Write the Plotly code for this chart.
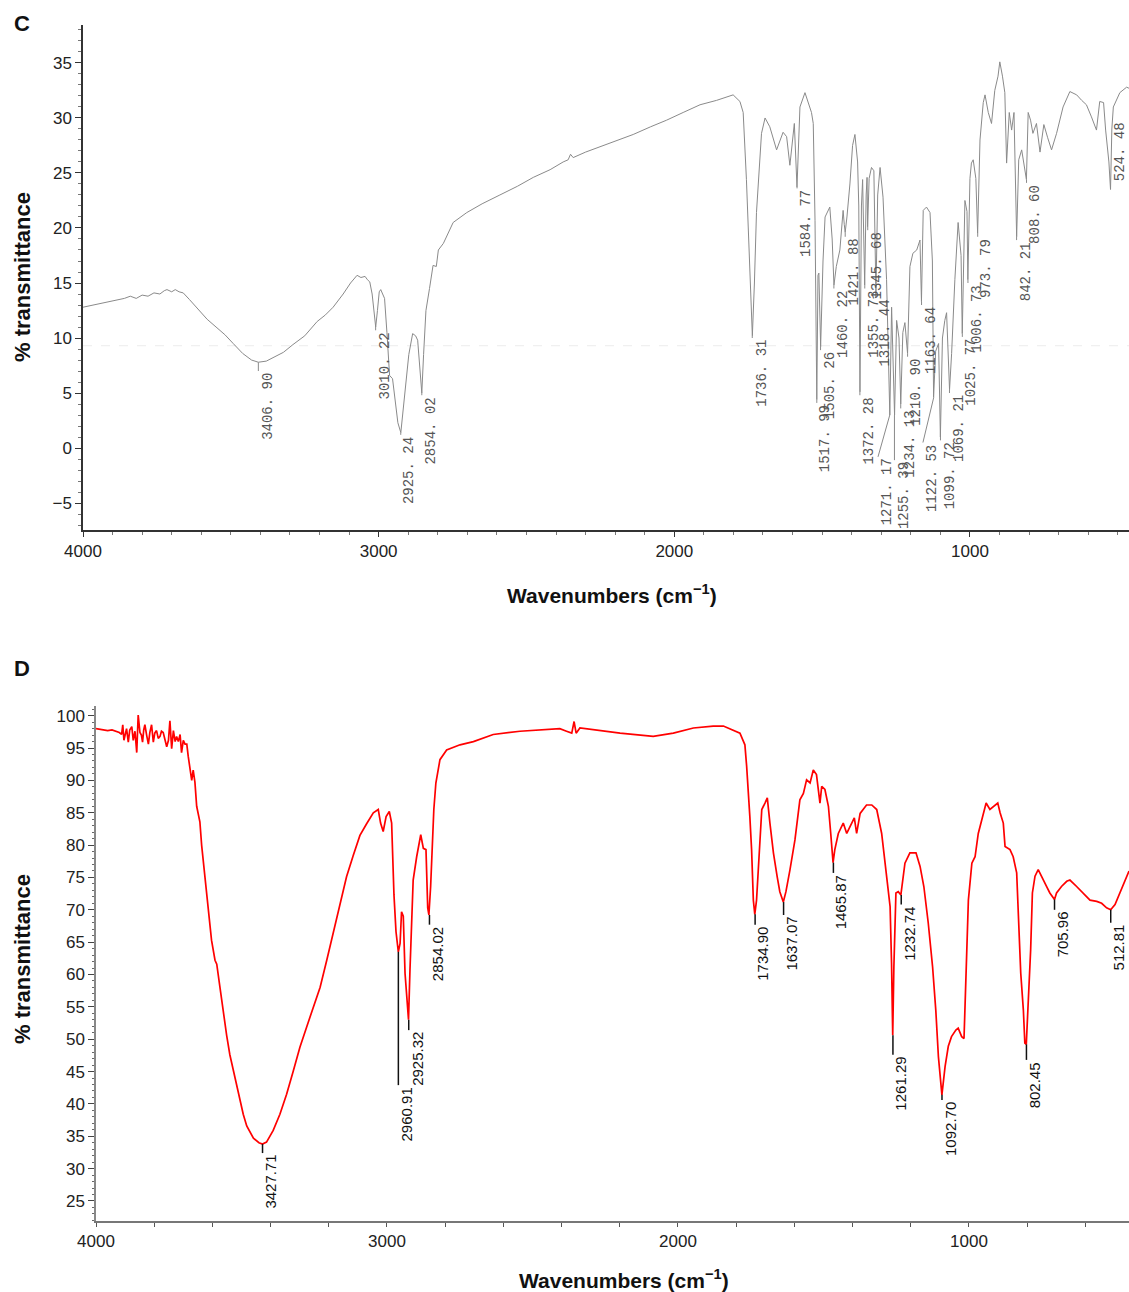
import plotly.graph_objects as go

# ---------------- Panel C (gray spectrum) ----------------
C_wavenumber = [
    4000, 3950, 3900, 3860, 3840, 3820, 3800, 3780, 3760, 3740,
    3725, 3716, 3700, 3688, 3675, 3661, 3640, 3620, 3604, 3580,
    3550, 3520, 3492, 3460, 3430, 3407, 3380, 3350, 3322, 3290,
    3250, 3208, 3180, 3154, 3120, 3095, 3073, 3060, 3046, 3038,
    3030, 3022, 3016, 3010, 3004, 2998, 2993, 2986, 2980, 2972,
    2963, 2953, 2945, 2935, 2925, 2912, 2898, 2885, 2875, 2868,
    2862, 2854, 2848, 2840, 2828, 2816, 2805, 2798, 2781, 2765,
    2748, 2702, 2650, 2590, 2530, 2477, 2420, 2376, 2359, 2351,
    2342, 2300, 2251, 2200, 2139, 2080, 2026, 1970, 1913, 1857,
    1823, 1801, 1778, 1767, 1756, 1745, 1736, 1729, 1722, 1705,
    1693, 1677, 1654, 1632, 1620, 1609, 1594, 1585, 1575, 1558,
    1547, 1536, 1530, 1524, 1518, 1514, 1511, 1505, 1497, 1490,
    1474, 1466, 1460, 1452, 1440, 1429, 1425, 1422, 1416, 1406,
    1397, 1389, 1380, 1376, 1372, 1367, 1363, 1356, 1351, 1348,
    1346, 1341, 1333, 1325, 1318, 1312, 1304, 1294, 1282, 1271,
    1265, 1255, 1248, 1240, 1234, 1227, 1220, 1211, 1203, 1193,
    1180, 1169, 1164, 1158, 1147, 1135, 1127, 1123, 1116, 1106,
    1100, 1093, 1085, 1079, 1069, 1062, 1051, 1040, 1030, 1026,
    1017, 1010, 1007, 1000, 995, 989, 980, 974, 966, 955,
    949, 938, 927, 916, 905, 899, 890, 882, 876, 867,
    859, 851, 842, 835, 825, 817, 809, 803, 795, 787,
    775, 763, 750, 737, 724, 707, 685, 662, 639, 622,
    606, 589, 572, 561, 548, 541, 530, 524.5, 520, 515,
    493, 470, 462,
]
C_transmittance = [
    12.8, 13.1, 13.4, 13.6, 13.8, 13.6, 13.9, 13.8, 14.1, 14.0,
    14.3, 14.4, 14.2, 14.4, 14.2, 14.1, 13.5, 12.9, 12.5, 11.7,
    11.0, 10.3, 9.5, 8.6, 8.0, 7.8, 7.9, 8.3, 8.7, 9.4,
    10.2, 11.5, 12.1, 12.8, 14.0, 15.0, 15.7, 15.5, 15.6, 15.3,
    15.1, 14.0, 12.2, 11.0, 12.5, 14.2, 14.4, 14.0, 13.6, 10.5,
    6.6, 6.3, 4.5, 2.3, 1.4, 5.0, 8.5, 10.4, 10.2, 9.8,
    8.0, 5.0, 8.5, 12.5, 14.5, 16.6, 16.5, 18.0, 18.6, 19.6,
    20.5, 21.4, 22.2, 23.0, 23.8, 24.6, 25.3, 26.0, 26.2, 26.7,
    26.4, 26.9, 27.4, 27.9, 28.5, 29.2, 29.8, 30.5, 31.2, 31.6,
    31.9, 32.1, 31.5, 30.5, 24.4, 16.0, 10.2, 15.0, 21.4, 28.6,
    30.0, 29.2, 27.1, 28.7, 28.3, 25.7, 29.5, 23.7, 31.0, 32.3,
    31.4, 30.5, 29.5, 20.7, 4.4, 15.7, 15.9, 9.2, 17.0, 21.0,
    21.9, 19.0, 14.8, 16.5, 18.0, 21.6, 20.3, 19.6, 21.0, 24.0,
    27.5, 28.5, 26.0, 22.0, 5.1, 22.0, 24.4, 14.8, 23.0, 24.6,
    20.1, 24.5, 25.5, 25.2, 14.0, 23.0, 25.5, 22.8, 15.3, 3.0,
    12.8, 3.0, 11.6, 10.0, 4.0, 10.5, 11.4, 8.6, 16.5, 17.7,
    18.0, 18.9, 13.3, 21.6, 21.9, 21.4, 17.0, 4.6, 8.8, 9.5,
    1.0, 10.0, 11.6, 12.3, 5.3, 8.6, 15.3, 20.5, 17.5, 10.4,
    22.5, 21.5, 15.3, 24.5, 25.9, 26.2, 24.5, 19.5, 28.0, 31.4,
    32.1, 30.5, 29.5, 32.5, 33.8, 35.1, 33.8, 32.3, 25.9, 30.5,
    28.9, 30.5, 19.2, 26.2, 27.1, 25.7, 24.4, 30.5, 29.8, 28.6,
    29.5, 26.9, 29.4, 28.2, 27.1, 28.6, 31.0, 32.4, 32.1, 31.6,
    31.2, 30.1, 28.9, 31.5, 31.4, 28.9, 26.0, 23.5, 29.0, 31.0,
    32.3, 32.8, 32.7,
]
C_peak_wn = [3406.90, 3010.22, 2925.24, 2854.02, 1736.31, 1584.77, 1517.99, 1505.26,
             1460.22, 1421.88, 1372.28, 1355.73, 1345.68, 1318.44, 1271.17, 1255.39,
             1234.13, 1210.90, 1163.64, 1122.53, 1099.72, 1069.21, 1025.77, 1006.73,
             973.79, 842.21, 808.60, 524.48]
C_peak_T = [7.8, 11.0, 1.4, 5.0, 10.2, 23.7, 4.4, 9.2,
            14.8, 19.6, 5.1, 14.8, 20.1, 14.0, 3.0, 3.0,
            4.0, 8.6, 13.3, 4.6, 1.0, 5.3, 10.4, 15.3,
            19.5, 19.2, 24.4, 23.5]
C_label_wn = [3406.90, 3010.22, 2925.24, 2854.02, 1736.31, 1584.77, 1517.99, 1505.26,
              1460.22, 1421.88, 1372.28, 1355.73, 1345.68, 1318.44, 1311.0, 1255.39,
              1234.13, 1210.90, 1163.64, 1159.0, 1099.72, 1069.21, 1025.77, 1006.73,
              973.79, 842.21, 808.60, 524.48]
C_label_T = [7.0, 10.7, 1.2, 4.8, 10.0, 23.6, 4.1, 8.9,
             14.5, 19.2, 4.8, 14.5, 19.8, 13.7, -0.8, -1.1,
             3.6, 8.3, 13.0, 0.5, 0.7, 5.0, 10.1, 15.0,
             19.2, 18.9, 24.1, 29.8]
C_baseline = 9.3

# ---------------- Panel D (red spectrum) ----------------
D_wavenumber = [
    4000, 3980, 3960, 3945, 3929, 3920, 3912, 3908, 3904, 3898,
    3895, 3889, 3884, 3877, 3872, 3866, 3860, 3855, 3849, 3844,
    3840, 3836, 3832, 3826, 3820, 3815, 3809, 3803, 3798, 3792,
    3786, 3780, 3775, 3769, 3763, 3757, 3751, 3746, 3740, 3734,
    3728, 3723, 3717, 3711, 3706, 3700, 3694, 3688, 3683, 3677,
    3671, 3666, 3660, 3654, 3648, 3643, 3637, 3631, 3629, 3622,
    3614, 3603, 3591, 3585, 3574, 3562, 3551, 3540, 3528, 3517,
    3505, 3494, 3482, 3459, 3440, 3428, 3414, 3391, 3368, 3345,
    3322, 3299, 3276, 3253, 3230, 3207, 3184, 3162, 3139, 3116,
    3093, 3070, 3047, 3030, 3022, 3013, 3003, 2992, 2984, 2976,
    2969, 2961, 2955, 2950, 2944, 2938, 2930, 2926, 2921, 2910,
    2898, 2884, 2875, 2866, 2860, 2856, 2850, 2843, 2839, 2832,
    2818, 2795, 2749, 2703, 2635, 2543, 2474, 2406, 2383, 2365,
    2357, 2350, 2337, 2291, 2199, 2085, 2016, 1947, 1879, 1844,
    1810, 1787, 1770, 1764, 1753, 1747, 1741, 1736, 1730, 1720,
    1712, 1701, 1693, 1684, 1672, 1659, 1650, 1638, 1629, 1615,
    1598, 1581, 1569, 1558, 1546, 1535, 1524, 1512, 1506, 1495,
    1483, 1475, 1467, 1461, 1449, 1432, 1420, 1394, 1386, 1374,
    1352, 1334, 1317, 1300, 1283, 1271, 1266, 1262, 1258, 1251,
    1243, 1234, 1220, 1203, 1182, 1168, 1155, 1140, 1125, 1114,
    1105, 1097, 1093, 1082, 1071, 1060, 1045, 1037, 1025, 1017,
    1011, 1002, 990, 979, 968, 956, 941, 928, 916, 901,
    893, 882, 876, 859, 848, 836, 830, 822, 813, 808,
    803, 796, 788, 782, 773, 762, 750, 733, 722, 706,
    699, 682, 664, 653, 630, 607, 584, 561, 544, 527,
    513, 498, 481, 458, 450,
]
D_transmittance = [
    98.0, 97.9, 97.7, 97.8, 97.6, 97.4, 97.1, 98.6, 96.2, 97.5,
    98.0, 95.9, 97.8, 98.3, 96.2, 97.6, 94.3, 100.1, 97.4, 97.0,
    95.9, 97.8, 98.6, 97.0, 95.6, 97.4, 98.6, 95.9, 97.3, 97.7,
    96.5, 96.8, 97.6, 97.4, 96.0, 95.2, 96.2, 99.2, 94.9, 97.7,
    96.0, 96.8, 96.0, 97.1, 94.3, 96.2, 95.6, 95.6, 93.7, 91.9,
    90.0, 91.6, 89.7, 86.0, 84.8, 83.6, 80.0, 77.5, 76.0, 73.9,
    70.2, 65.3, 62.2, 61.6, 58.0, 53.7, 50.6, 47.6, 45.1, 42.7,
    40.2, 38.4, 36.6, 34.7, 34.0, 33.8, 34.1, 35.9, 38.4, 41.5,
    45.1, 48.8, 51.9, 54.9, 58.0, 62.2, 66.5, 70.8, 75.1, 78.4,
    81.5, 83.3, 85.0, 85.5, 83.4, 82.1, 84.4, 85.2, 83.4, 72.3,
    66.6, 63.5, 64.8, 69.7, 69.0, 60.2, 55.8, 53.0, 60.7, 74.6,
    78.2, 81.6, 79.5, 79.3, 70.3, 69.2, 73.6, 80.8, 85.5, 89.6,
    93.2, 94.7, 95.5, 96.0, 97.1, 97.6, 97.8, 98.0, 97.6, 97.3,
    99.1, 97.3, 98.1, 97.8, 97.3, 96.8, 97.3, 98.1, 98.4, 98.4,
    97.8, 97.3, 95.5, 92.2, 84.4, 79.3, 71.5, 69.3, 71.5, 79.3,
    85.5, 86.5, 87.3, 83.4, 78.8, 75.1, 72.8, 71.2, 72.8, 76.2,
    80.8, 87.0, 88.0, 90.1, 89.6, 91.6, 90.9, 86.5, 89.1, 88.6,
    86.0, 81.8, 77.3, 79.3, 81.8, 83.4, 81.8, 84.2, 81.8, 84.9,
    86.2, 86.2, 85.5, 81.8, 75.7, 70.5, 61.7, 50.6, 61.2, 72.6,
    72.8, 72.3, 77.2, 78.8, 78.8, 76.7, 73.6, 68.0, 61.2, 54.5,
    47.3, 42.4, 41.4, 45.8, 48.9, 50.4, 51.4, 51.7, 50.4, 50.1,
    58.7, 71.5, 77.2, 78.2, 81.8, 83.9, 86.5, 85.5, 86.0, 86.5,
    85.0, 83.4, 79.8, 79.3, 78.2, 75.7, 69.0, 60.2, 54.5, 49.4,
    49.2, 56.1, 63.8, 72.6, 75.2, 76.2, 75.2, 73.6, 72.6, 71.6,
    72.6, 73.6, 74.4, 74.6, 73.6, 72.6, 71.5, 71.3, 71.0, 70.3,
    70.0, 70.8, 72.6, 75.2, 76.0,
]
D_peak_wn = [3427.71, 2960.91, 2925.32, 2854.02, 1734.90, 1637.07, 1465.87,
             1261.29, 1232.74, 1092.70, 802.45, 705.96, 512.81]
D_peak_T = [33.8, 63.5, 53.0, 69.2, 69.3, 71.2, 77.3, 50.6, 72.3, 41.4, 49.2, 71.6, 70.0]
D_label_T = [32.4, 42.9, 51.4, 67.7, 67.7, 69.2, 75.7, 47.6, 70.8, 40.6, 46.8, 70.0, 68.0]

X_TICKS = [4000, 3000, 2000, 1000]

assert len(C_wavenumber) == len(C_transmittance)
assert len(D_wavenumber) == len(D_transmittance)

W, H = 1129, 1292
SANS = "Liberation Sans, Arial, sans-serif"


def px_x(p):
    return p / W


def px_y(p):
    return 1 - p / H


fig = go.Figure()

# ---- Panel C traces ----
fig.add_trace(go.Scatter(x=[4000, 462], y=[C_baseline, C_baseline], mode="lines",
                         line=dict(color="#ececec", width=1, dash="dash"),
                         xaxis="x", yaxis="y", hoverinfo="skip"))
fig.add_trace(go.Scatter(x=C_wavenumber, y=C_transmittance, mode="lines",
                         line=dict(color="#8a8a8a", width=1),
                         xaxis="x", yaxis="y", hoverinfo="skip"))
lx, ly = [], []
for wn, pk, lw, lt in zip(C_peak_wn, C_peak_T, C_label_wn, C_label_T):
    if lt < pk:
        lx += [wn, lw, None]
        ly += [pk, lt, None]
fig.add_trace(go.Scatter(x=lx, y=ly, mode="lines", line=dict(color="#8a8a8a", width=1),
                         xaxis="x", yaxis="y", hoverinfo="skip"))

# ---- Panel D traces ----
fig.add_trace(go.Scatter(x=D_wavenumber, y=D_transmittance, mode="lines",
                         line=dict(color="#ff0000", width=1.7),
                         xaxis="x2", yaxis="y2", hoverinfo="skip"))
dx, dy = [], []
for wn, pk, lt in zip(D_peak_wn, D_peak_T, D_label_T):
    dx += [wn, wn, None]
    dy += [pk, lt, None]
fig.add_trace(go.Scatter(x=dx, y=dy, mode="lines", line=dict(color="#111111", width=1.5),
                         xaxis="x2", yaxis="y2", hoverinfo="skip"))

annotations = []
for wn, lw, lt in zip(C_peak_wn, C_label_wn, C_label_T):
    annotations.append(dict(
        x=lw, y=lt, xref="x", yref="y", text=f"{wn:.2f}".replace(".", ". "),
        textangle=-90, showarrow=False, xanchor="center", yanchor="top", xshift=9,
        font=dict(family="Liberation Mono, Courier New, monospace", size=14, color="#555555")))
for wn, lt in zip(D_peak_wn, D_label_T):
    annotations.append(dict(
        x=wn, y=lt, xref="x2", yref="y2", text=f"{wn:.2f}",
        textangle=-90, showarrow=False, xanchor="center", yanchor="top", xshift=8,
        font=dict(family=SANS, size=15, color="#111111")))

title_font = dict(family=SANS, size=22, color="#111111")
annotations += [
    dict(x=px_x(22), y=px_y(24), xref="paper", yref="paper", text="<b>C</b>", showarrow=False,
         font=title_font, xanchor="center", yanchor="middle"),
    dict(x=px_x(22), y=px_y(668), xref="paper", yref="paper", text="<b>D</b>", showarrow=False,
         font=title_font, xanchor="center", yanchor="middle"),
    dict(x=px_x(22), y=px_y(277), xref="paper", yref="paper", text="<b>% transmittance</b>",
         textangle=-90, showarrow=False, font=title_font, xanchor="center", yanchor="middle"),
    dict(x=px_x(22), y=px_y(959), xref="paper", yref="paper", text="<b>% transmittance</b>",
         textangle=-90, showarrow=False, font=title_font, xanchor="center", yanchor="middle"),
    dict(x=px_x(612), y=px_y(594), xref="paper", yref="paper",
         text="<b>Wavenumbers (cm<sup>−1</sup>)</b>", showarrow=False,
         font=dict(family=SANS, size=21, color="#111111"), xanchor="center", yanchor="middle"),
    dict(x=px_x(624), y=px_y(1279), xref="paper", yref="paper",
         text="<b>Wavenumbers (cm<sup>−1</sup>)</b>", showarrow=False,
         font=dict(family=SANS, size=21, color="#111111"), xanchor="center", yanchor="middle"),
]

tick_font = dict(family=SANS, size=17, color="#222222")

fig.update_layout(
    width=W, height=H,
    margin=dict(l=0, r=0, t=0, b=0),
    paper_bgcolor="white", plot_bgcolor="white",
    showlegend=False,
    font=dict(family=SANS),
    annotations=annotations,
    xaxis=dict(domain=[px_x(83), 1.0], range=[4000, 462], anchor="y",
               showline=True, linecolor="#333333", linewidth=1.5, mirror=False,
               ticks="outside", ticklen=5, tickcolor="#333333", tickmode="array",
               tickvals=X_TICKS, tickfont=tick_font, showgrid=False, zeroline=False,
               automargin=False,
               minor=dict(ticks="outside", ticklen=3, dtick=100, tick0=0, tickcolor="#777777",
                          showgrid=False)),
    yaxis=dict(domain=[px_y(530), px_y(25)], range=[-7.45, 38.45], anchor="x",
               showline=True, linecolor="#333333", linewidth=1.5,
               ticks="outside", ticklen=6, tickcolor="#333333", tick0=0, dtick=5,
               tickfont=tick_font, showgrid=False, zeroline=False, automargin=False,
               minor=dict(ticks="outside", ticklen=3, dtick=1, tick0=0, tickcolor="#777777",
                          showgrid=False)),
    xaxis2=dict(domain=[px_x(96), 1.0], range=[4000, 450], anchor="y2",
                showline=True, linecolor="#777777", linewidth=1.5,
                ticks="outside", ticklen=4, tickcolor="#555555", tickmode="array",
                tickvals=X_TICKS, tickfont=tick_font, showgrid=False, zeroline=False,
                automargin=False,
                minor=dict(ticks="outside", ticklen=4, dtick=200, tick0=0, tickcolor="#555555",
                           showgrid=False)),
    yaxis2=dict(domain=[px_y(1221), px_y(706)], range=[21.9, 101.5], anchor="x2",
                showline=True, linecolor="#888888", linewidth=1.5,
                ticks="outside", ticklen=6, tickcolor="#444444", tick0=0, dtick=5,
                tickfont=tick_font, showgrid=False, zeroline=False, automargin=False,
                minor=dict(ticks="outside", ticklen=2, dtick=1, tick0=0, tickcolor="#666666",
                           showgrid=False)),
)

# remove the browser's default page margin so the figure fills the window exactly
fig.write_html(
    "out.html",
    config={"displayModeBar": False},
    post_script=("document.documentElement.style.margin='0';"
                 "document.body.style.margin='0';"
                 "document.documentElement.style.overflow='hidden';"
                 "document.body.style.overflow='hidden';"),
)
